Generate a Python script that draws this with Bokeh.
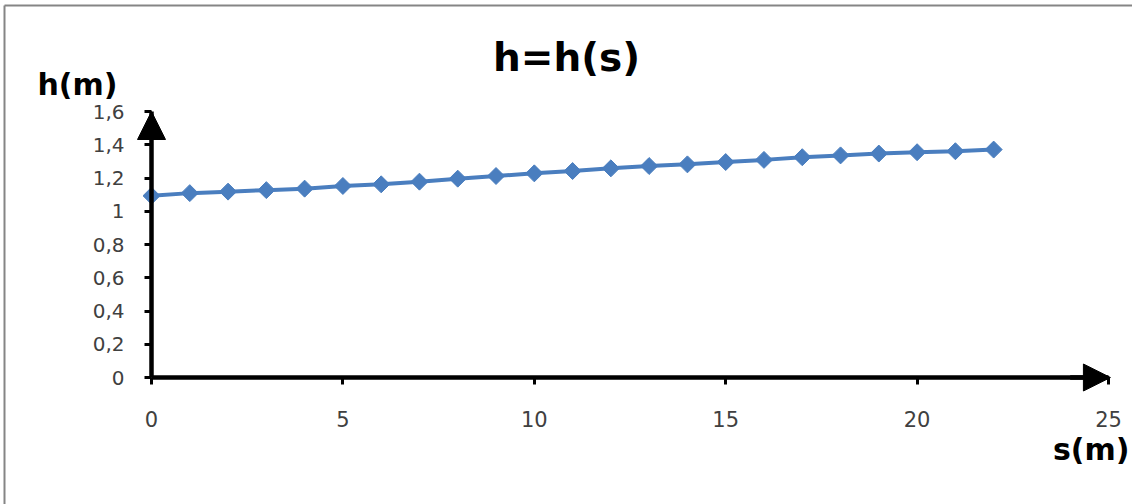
from bokeh.plotting import figure
from bokeh.models import Range1d, FixedTicker, Arrow, NormalHead, Label, ColumnDataSource, LinearAxis
from bokeh.embed import file_html
from bokeh.resources import INLINE
import math

s_values = list(range(0, 23))
h_values = [1.093, 1.109, 1.118, 1.127, 1.136, 1.152, 1.162, 1.178, 1.196, 1.212, 1.228, 1.242,
            1.258, 1.272, 1.282, 1.296, 1.309, 1.325, 1.336, 1.347, 1.355, 1.361, 1.371]
x_ticks = [0, 5, 10, 15, 20, 25]
y_ticks = [0, 0.2, 0.4, 0.6, 0.8, 1.0, 1.2, 1.4, 1.6]
y_tick_labels = ["0", "0,2", "0,4", "0,6", "0,8", "1", "1,2", "1,4", "1,6"]
title_text = "h=h(s)"
y_title = "h(m)"
x_title = "s(m)"

W, H = 1132, 504
# plot area (axes box) in pixels: x 0..25 -> 151..1108, y 0..1.6 -> 377..111
kx = (1108 - 151) / 25.0
ky = (377 - 111) / 1.6
x_lo, x_hi = -151 / kx, 25 + (W - 1108) / kx
y_lo, y_hi = -(H - 377) / ky, 1.6 + 111 / ky

def px_x(px):
    return (px - 151) / kx

def px_y(py):
    return (377 - py) / ky

p = figure(width=W, height=H, output_backend="svg", toolbar_location=None,
           x_range=Range1d(x_lo, x_hi), y_range=Range1d(y_lo, y_hi),
           x_axis_location=None, y_axis_location=None,
           min_border=0)
p.outline_line_color = None
p.xgrid.visible = False
p.ygrid.visible = False
p.background_fill_color = "white"
p.border_fill_color = "white"

# chart border (left and top visible, right and bottom beyond the picture)
p.segment(x0=[px_x(4), px_x(4)], y0=[px_y(5), px_y(5)], x1=[x_hi + 2, px_x(4)], y1=[px_y(5), y_lo - 2],
          line_color="#858585", line_width=2)

FONT = "DejaVu Sans"
xax = LinearAxis(fixed_location=0, bounds=(0, 25), ticker=FixedTicker(ticks=x_ticks))
yax = LinearAxis(fixed_location=0, bounds=(0, 1.6), ticker=FixedTicker(ticks=y_ticks))
for ax in (xax, yax):
    ax.axis_line_width = 4.5
    ax.axis_line_color = "black"
    ax.major_tick_line_width = 3
    ax.major_tick_line_color = "black"
    ax.major_tick_in = 0
    ax.major_tick_out = 7
    ax.minor_tick_line_color = None
    ax.major_label_text_font = FONT
    ax.major_label_text_color = "#404040"
xax.major_label_text_font_size = "21px"
xax.major_label_standoff = 26
yax.major_label_overrides = {t: l for t, l in zip(y_ticks, y_tick_labels)}
yax.major_label_text_font_size = "20px"
yax.major_label_standoff = 20
p.add_layout(xax, "below")
p.add_layout(yax, "left")

src = ColumnDataSource(data=dict(s=s_values, h=h_values))
color = "#4A7EBF"
p.line("s", "h", source=src, line_color=color, line_width=4)
p.scatter("s", "h", source=src, marker="square", angle=math.pi / 4, size=12,
          fill_color=color, line_color=color)

# arrow heads on the axes
p.add_layout(Arrow(x_start=0, y_start=1.0, x_end=0, y_end=1.6, line_alpha=0,
                   end=NormalHead(size=28, fill_color="black", line_color="black")))
p.add_layout(Arrow(x_start=24, y_start=0, x_end=25.05, y_end=0, line_width=4.5, line_color="black",
                   end=NormalHead(size=27, fill_color="black", line_color="black")))

# texts
p.add_layout(Label(x=px_x(566), y=px_y(57), text=title_text, text_font=FONT,
                   text_font_style="bold", text_font_size="39px", text_align="center",
                   text_baseline="alphabetic", text_color="black"))
p.add_layout(Label(x=px_x(37), y=px_y(84), text=y_title, text_font=FONT,
                   text_font_style="bold", text_font_size="30px", text_align="left",
                   text_baseline="alphabetic", text_color="black"))
p.add_layout(Label(x=px_x(1129), y=px_y(449), text=x_title, text_font=FONT,
                   text_font_style="bold", text_font_size="30px", text_align="right",
                   text_baseline="alphabetic", text_color="black"))

open("out.html", "w").write(file_html(p, INLINE))
